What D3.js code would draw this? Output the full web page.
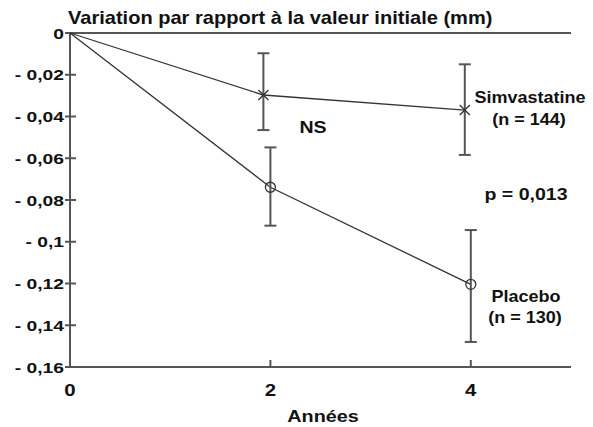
<!DOCTYPE html>
<html><head><meta charset="utf-8">
<script src="https://cdn.jsdelivr.net/npm/d3@7"></script>
<style>
body{margin:0;background:#fff;}
text{font-family:"Liberation Sans",Arial,Helvetica,sans-serif;font-weight:bold;fill:#111;}
</style></head>
<body>
<svg id="c" width="593" height="427"></svg>
<script>
// Data
const xTicks = [0, 2, 4];
const yTicks = [0, -0.02, -0.04, -0.06, -0.08, -0.1, -0.12, -0.14, -0.16];
const yTickLabels = ["0", "- 0,02", "- 0,04", "- 0,06", "- 0,08", "- 0,1", "- 0,12", "- 0,14", "- 0,16"];
const simvaX = [0, 1.93, 3.94];
const simvaY = [0, -0.0297, -0.0369];
const simvaLow = [null, -0.0465, -0.0584];
const simvaHigh = [null, -0.0097, -0.0150];
const placeboX = [0, 2.0, 4.0];
const placeboY = [0, -0.0739, -0.1204];
const placeboLow = [null, -0.0923, -0.1480];
const placeboHigh = [null, -0.0548, -0.0944];

const svg = d3.select("#c");
const x = d3.scaleLinear().domain([0, 5]).range([70, 571]);
const y = d3.scaleLinear().domain([-0.16, 0]).range([367, 33]);
const axisCol = "#555", lineCol = "#333";

function txt(s, px, py, size, anchor, stretch) {
  const t = svg.append("text").attr("x", px).attr("y", py).attr("font-size", size).attr("text-anchor", anchor).text(s);
  if (stretch && stretch !== 1) {
    const w = t.node().getComputedTextLength();
    t.attr("textLength", w * stretch).attr("lengthAdjust", "spacingAndGlyphs");
  }
  return t;
}

// title
txt("Variation par rapport à la valeur initiale (mm)", 68, 24, 19, "start", 1.055);

// frame lines
svg.append("line").attr("x1", x(0)).attr("x2", x(5)).attr("y1", y(0)).attr("y2", y(0)).attr("stroke", axisCol).attr("stroke-width", 2);
svg.append("line").attr("x1", x(0)).attr("x2", x(5)).attr("y1", y(-0.16)).attr("y2", y(-0.16)).attr("stroke", axisCol).attr("stroke-width", 2);
svg.append("line").attr("x1", x(0)).attr("x2", x(0)).attr("y1", y(0)).attr("y2", y(-0.16)).attr("stroke", axisCol).attr("stroke-width", 2);

// y ticks
yTicks.forEach((t, i) => {
  svg.append("line").attr("x1", x(0) - 5).attr("x2", x(0) + 6).attr("y1", y(t)).attr("y2", y(t)).attr("stroke", axisCol).attr("stroke-width", 2);
  txt(yTickLabels[i], 64, y(t) + 5.5, 15.5, "end", 1.24);
});
// x ticks
xTicks.forEach(t => {
  if (t > 0) svg.append("line").attr("x1", x(t)).attr("x2", x(t)).attr("y1", y(-0.16) - 7).attr("y2", y(-0.16)).attr("stroke", axisCol).attr("stroke-width", 2);
  txt(String(t), x(t), 396, 17, "middle", 1.2);
});
txt("Années", 323, 422, 16.5, "middle", 1.2);

const line = d3.line().x(d => x(d[0])).y(d => y(d[1]));
function series(X, Y, L, H, marker) {
  const pts = X.map((v, i) => [v, Y[i]]);
  svg.append("path").attr("d", line(pts)).attr("fill", "none").attr("stroke", lineCol).attr("stroke-width", 1.3);
  X.forEach((v, i) => {
    if (L[i] === null) return;
    const cx = x(v);
    svg.append("line").attr("x1", cx).attr("x2", cx).attr("y1", y(H[i])).attr("y2", y(L[i])).attr("stroke", axisCol).attr("stroke-width", 2);
    [H[i], L[i]].forEach(e => svg.append("line").attr("x1", cx - 6).attr("x2", cx + 6).attr("y1", y(e)).attr("y2", y(e)).attr("stroke", axisCol).attr("stroke-width", 2));
    const cy = y(Y[i]);
    if (marker === "circle") {
      svg.append("circle").attr("cx", cx).attr("cy", cy).attr("r", 5).attr("fill", "none").attr("stroke", lineCol).attr("stroke-width", 1.3);
    } else {
      svg.append("path").attr("d", `M${cx-5},${cy-5}L${cx+5},${cy+5}M${cx-5},${cy+5}L${cx+5},${cy-5}`).attr("stroke", lineCol).attr("stroke-width", 1.3);
    }
  });
}
series(simvaX, simvaY, simvaLow, simvaHigh, "x");
series(placeboX, placeboY, placeboLow, placeboHigh, "circle");

// annotations
txt("Simvastatine", 530, 103, 17, "middle", 1.06);
txt("(n = 144)", 529, 125, 17, "middle", 1.06);
txt("NS", 313, 133, 17, "middle", 1.15);
txt("p = 0,013", 526, 200, 17, "middle", 1.15);
txt("Placebo", 526, 302, 17, "middle", 1.06);
txt("(n = 130)", 525, 323, 17, "middle", 1.06);
</script>
</body></html>
